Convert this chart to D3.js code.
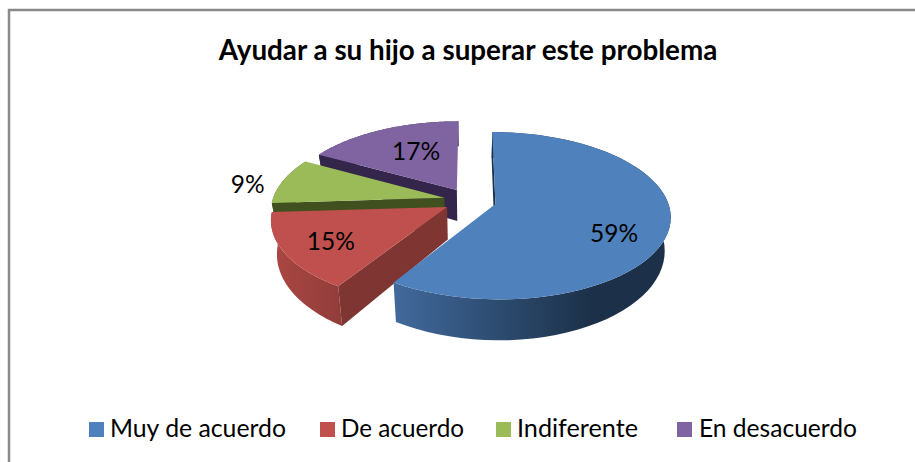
<!DOCTYPE html>
<html><head><meta charset="utf-8">
<script src="https://cdnjs.cloudflare.com/ajax/libs/d3/7.8.5/d3.min.js"></script>
<style>html,body{margin:0;background:#fff}svg{display:block}text{font-family:Lato,"Open Sans",sans-serif;fill:#000}</style>
</head><body><script>
const categories = ["Muy de acuerdo","De acuerdo","Indiferente","En desacuerdo"];
const values = [59,15,9,17];
const labels = ["59%","15%","9%","17%"];
const topColors = ["#4f81bd","#c0504d","#9bbb59","#8064a2"];
const wallLeft = ["#41699b","#ab4744","#4a5c26","#382a50"];
const wallRight = ["#1c3149","#8f3c39","#4a5c26","#382a50"];
const edgeColors = ["#1c3149","#7f3532","#41501f","#33264a"];
const W=915,H=462;
const svg=d3.select("body").append("svg").attr("width",W).attr("height",H);
svg.append("rect").attr("x",9).attr("y",10).attr("width",W).attr("height",H).attr("fill","#fff").attr("stroke","#8a8a8a").attr("stroke-width",2.5);

svg.append("text").attr("x",468).attr("y",60).attr("text-anchor","middle")
  .attr("font-size",27.8).attr("font-weight",700).text("Ayudar a su hijo a superar este problema");

// perspective projection of the tilted, exploded disc
const xc=470,yc=200.5,R=172,ry=81,p=0.14,explode=0.153,wallTop=32,wallStretch=1.09,wallNarrow=0.97;
const proj=(o,a,r,bottom)=>{
  const X=o.ex+Math.sin(a)*r, V=o.ey-Math.cos(a)*r, s=1/(1-p*V);
  const x=R*X*s, y=ry*V*s;
  return bottom?[xc+x*wallNarrow,yc+y*wallStretch+wallTop]:[xc+x,yc+y];
};
const arcs=d3.pie().sort(null)(values);
const line=d3.line();
const defs=svg.append("defs");
const samples=(a0,a1)=>d3.range(0,61).map(i=>a0+(a1-a0)*i/60);

const slices=arcs.map((d,i)=>{
  const mid=(d.startAngle+d.endAngle)/2;
  return {d,i,mid,ex:Math.sin(mid)*explode,ey:-Math.cos(mid)*explode};
});
slices.forEach(o=>{
  const ax=proj(o,0,0,false)[0];
  defs.append("linearGradient").attr("id","w"+o.i).attr("gradientUnits","userSpaceOnUse")
    .attr("x1",o.i===0?ax-100:ax-175).attr("x2",o.i===0?ax+95:ax-100).attr("y1",0).attr("y2",0)
    .selectAll("stop").data([[0,wallLeft[o.i]],[1,wallRight[o.i]]]).join("stop")
    .attr("offset",s=>s[0]).attr("stop-color",s=>s[1]);
});
[3,2,1,0].forEach(i=>{
  const o=slices[i],{startAngle:a0,endAngle:a1}=o.d;
  const g=svg.append("g");
  const rim=samples(a0,a1);
  g.append("path").attr("d",line([...rim.map(a=>proj(o,a,1,false)),...rim.slice().reverse().map(a=>proj(o,a,1,true))])+"Z")
    .attr("fill",`url(#w${i})`);
  g.append("path").attr("d",line([proj(o,a0,0,false),proj(o,a0,1,false),proj(o,a0,1,true),proj(o,a0,0,true)])+"Z")
    .attr("fill",edgeColors[i]);
  g.append("path").attr("d",line([proj(o,a0,0,false),...rim.map(a=>proj(o,a,1,false))])+"Z").attr("fill",topColors[i]);
});

// data labels placed from the slice geometry
const labelRadius=[0.73,0.62,1.24,0.62];
const labelShift=[[-7,12],[-18,7],[2,7],[8,0]];
slices.forEach(o=>{
  const pt=proj(o,o.mid,labelRadius[o.i],false);
  svg.append("text").attr("x",pt[0]+labelShift[o.i][0]).attr("y",pt[1]+labelShift[o.i][1]).attr("dy","0.36em").attr("text-anchor","middle")
    .attr("font-size",24.5).text(labels[o.i]);
});

// legend
const legendX=[89,320,496,677],textX=[110,341,517,699],textW=[176,123,121,158];
categories.forEach((c,i)=>{
  svg.append("rect").attr("x",legendX[i]).attr("y",422).attr("width",15).attr("height",15).attr("fill",topColors[i]);
  svg.append("text").attr("x",textX[i]).attr("y",437).attr("font-size",24.8).attr("textLength",textW[i]).attr("lengthAdjust","spacingAndGlyphs").text(c);
});
</script></body></html>
